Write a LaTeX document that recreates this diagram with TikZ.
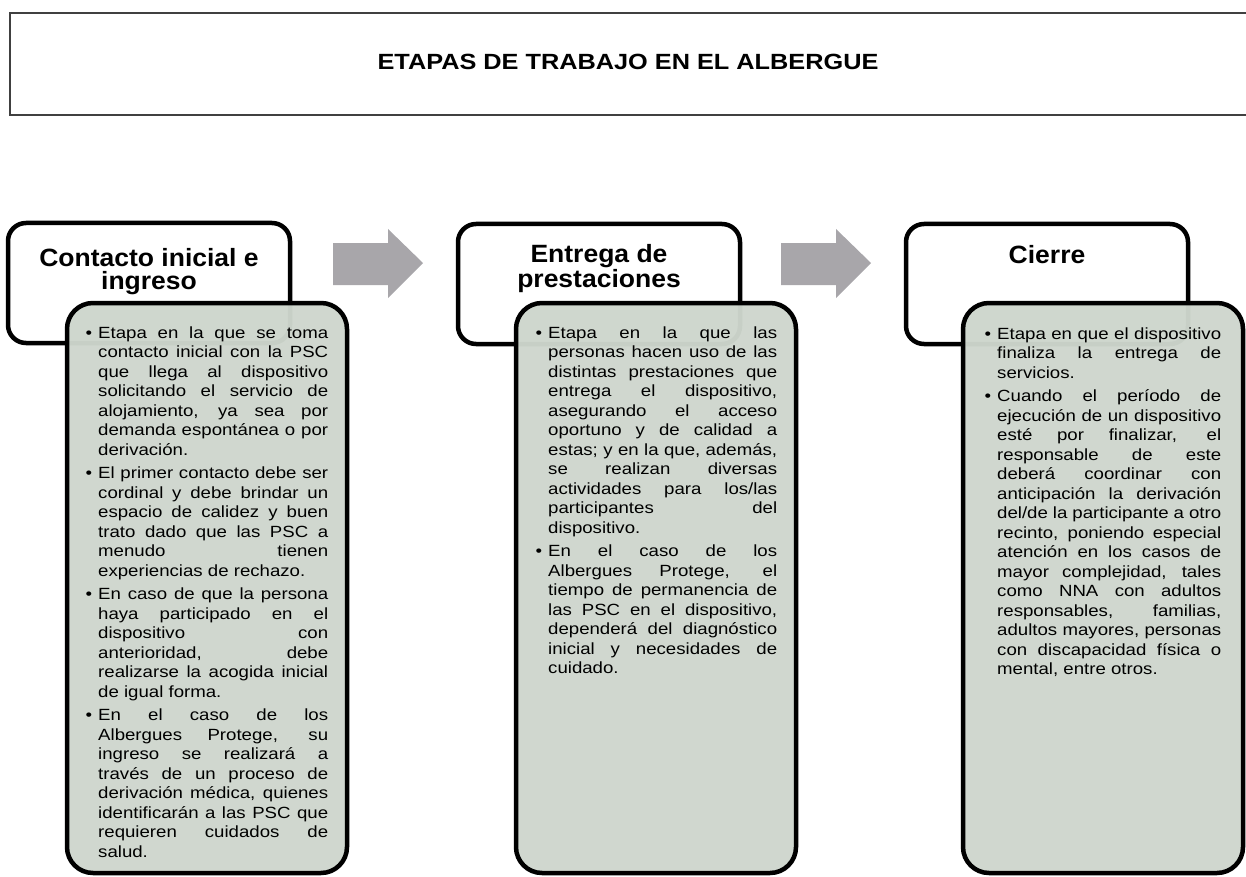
\documentclass[tikz,border=0pt]{standalone}
\usepackage{fontspec}
\setmainfont{Liberation Sans}[FakeStretch=1.15]
\newfontfamily\headfont{Liberation Sans}[FakeStretch=1.06]
\usepackage{tikz}

\definecolor{salvia}{RGB}{206,214,205}
\definecolor{flecha}{RGB}{168,166,170}
\newcommand\punto{\leavevmode\llap{\textbullet\hspace{6pt}}}
\newcommand\salto{\linebreak}

\begin{document}
\begin{tikzpicture}[x=1pt,y=-1pt,
    encabezado/.style={draw,line width=4.5pt,rounded corners=18pt,fill=white,
      minimum width=282pt,minimum height=120pt,inner sep=0pt},
    cuerpo/.style={draw,line width=4.5pt,rounded corners=26pt,fill=salvia,
      fill opacity=0.97,minimum width=280pt,minimum height=570pt,inner sep=0pt},
    etapa/.style={font=\headfont\bfseries\fontsize{25}{23}\selectfont,
      align=center,anchor=base,inner sep=0pt},
    texto/.style={font=\fontsize{16.2}{19.5}\selectfont,align=justify,anchor=base west,
      inner sep=0pt,execute at begin node={\setlength{\parskip}{4pt}\tolerance=10000\hyphenpenalty=10000}}]
    \useasboundingbox (0,0) rectangle (1246,877);
    % titulo
    \draw[line width=1.6pt,black!75] (10,13) rectangle (1270,115);
    \node[font=\bfseries\fontsize{22}{26}\selectfont,anchor=base] (titulo) at (628,70)
      {ETAPAS DE TRABAJO EN EL ALBERGUE};
    % flechas
    \foreach \dx in {0,448}
      \fill[flecha,shift={(\dx,0)}] (333,243) -- (388,243) -- (388,229) -- (423,263)
        -- (388,298) -- (388,285) -- (333,285) -- cycle;
    % etapas
    \node[encabezado] (h1) at (149,283) {};
    \node[encabezado] (h2) at (599,284) {};
    \node[encabezado] (h3) at (1047,284) {};
    \node[etapa] (l1) at (149,289) {Contacto inicial e\\ingreso};
    \node[etapa] (l2) at (599,287) {Entrega de\\prestaciones};
    \node[etapa] (l3) at (1047,263) {Cierre};
    \node[cuerpo] (b1) at (207,588) {};
    \node[cuerpo] (b2) at (656,588) {};
    \node[cuerpo] (b3) at (1103,588) {};
    \node[texto,text width=230pt] (t1) at (98,338) {%
      \punto Etapa en la que se toma\salto contacto inicial con la PSC\salto
      que llega al dispositivo\salto solicitando el servicio de\salto
      alojamiento, ya sea por\salto demanda espontánea o por\salto derivación.\par
      \punto El primer contacto debe ser\salto cordinal y debe brindar un\salto
      espacio de calidez y buen\salto trato dado que las PSC a\salto
      menudo tienen\salto experiencias de rechazo.\par
      \punto En caso de que la persona\salto haya participado en el\salto
      dispositivo con\salto anterioridad, debe\salto
      realizarse la acogida inicial\salto de igual forma.\par
      \punto En el caso de los\salto Albergues Protege, su\salto
      ingreso se realizará a\salto través de un proceso de\salto
      derivación médica, quienes\salto identificarán a las PSC que\salto
      requieren cuidados de\salto salud.};
    \node[texto,text width=229pt] (t2) at (548,338) {%
      \punto Etapa en la que las\salto personas hacen uso de las\salto
      distintas prestaciones que\salto entrega el dispositivo,\salto
      asegurando el acceso\salto oportuno y de calidad a\salto
      estas; y en la que, además,\salto se realizan diversas\salto
      actividades para los/las\salto participantes del\salto dispositivo.\par
      \punto En el caso de los\salto Albergues Protege, el\salto
      tiempo de permanencia de\salto las PSC en el dispositivo,\salto
      dependerá del diagnóstico\salto inicial y necesidades de\salto cuidado.};
    \node[texto,text width=224pt] (t3) at (997,339) {%
      \punto Etapa en que el dispositivo\salto finaliza la entrega de\salto servicios.\par
      \punto Cuando el período de\salto ejecución de un dispositivo\salto
      esté por finalizar, el\salto responsable de este\salto
      deberá coordinar con\salto anticipación la derivación\salto
      del/de la participante a otro\salto recinto, poniendo especial\salto
      atención en los casos de\salto mayor complejidad, tales\salto
      como NNA con adultos\salto responsables, familias,\salto
      adultos mayores, personas\salto con discapacidad física o\salto
      mental, entre otros.};
  \end{tikzpicture}
\end{document}
